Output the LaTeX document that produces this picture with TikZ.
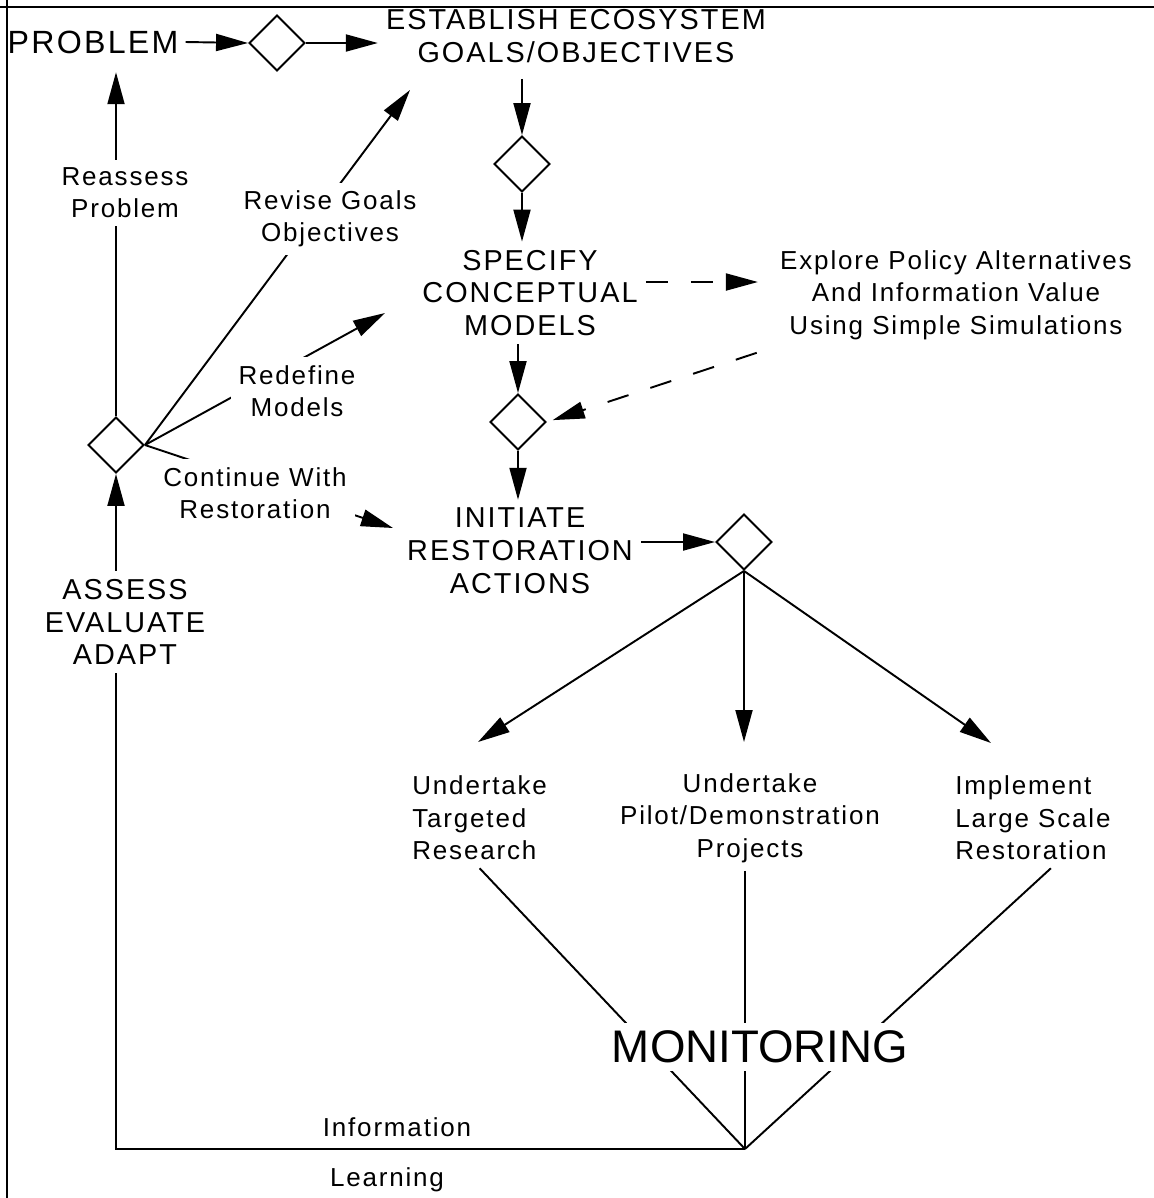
\documentclass[tikz,border=0pt]{standalone}
\usepackage{fontspec}
\setmainfont{Liberation Sans}
\newfontfamily\spacedfont[LetterSpace=7]{Liberation Sans}
\usepackage{tikz}
\usetikzlibrary{shapes.geometric,arrows.meta,positioning,calc,backgrounds}
\tikzset{
    stage/.style={font=\spacedfont\fontsize{16.4}{18.7}\selectfont, align=center, inner sep=0.16cm},
    note/.style={font=\spacedfont\fontsize{14.8}{18.4}\selectfont, align=center, inner sep=0.16cm},
    notebg/.style={note, fill=white},
    decision/.style={diamond, draw, line width=1.1pt, minimum width=1.12cm, minimum height=1.12cm, inner sep=0pt},
    flow/.style={line width=1.1pt, -{Triangle[length=0.64cm, width=0.34cm]}},
    link/.style={line width=1.1pt},
    dflow/.style={flow, dash pattern=on 0.44cm off 0.46cm},
}

\begin{document}
\begin{tikzpicture}[x=0.02cm, y=-0.02cm]
    \useasboundingbox (0,0) rectangle (1154,1198);
    % Frame (top and left only)
    \draw[line width=1.3pt] (0,7) -- (1154,7);
    \draw[line width=1.3pt] (7,0) -- (7,1198);

    % Main column
    \node[font=\spacedfont\fontsize{18.3}{20}\selectfont, inner xsep=0.14cm, inner ysep=0.37cm] (problem) at (93,42) {PROBLEM};
    \node[decision] (d1) at (277,43) {};
    \node[stage] (establish) at (576,36) {ESTABLISH ECOSYSTEM\\GOALS/OBJECTIVES};
    \node[decision] (d2) at (522,164) {};
    \node[stage] (specify) at (530,293) {SPECIFY\\CONCEPTUAL\\MODELS};
    \node[decision] (d3) at (518,422) {};
    \node[stage] (initiate) at (520,551) {INITIATE\\RESTORATION\\ACTIONS};
    \node[decision] (d4) at (744,542) {};

    % Side branch
    \node[note] (explore) at (956,295) {Explore Policy Alternatives\\And Information Value\\Using Simple Simulations};

    % Kinds of action
    \node[note, align=left, anchor=west] (research) at (404,818) {Undertake\\Targeted\\Research};
    \node[note] (pilot) at (750,818) {Undertake\\Pilot/Demonstration\\Projects};
    \node[note, align=left, anchor=west] (implement) at (947,818) {Implement\\Large Scale\\Restoration};
    \node[font=\fontsize{26}{28}\selectfont, fill=white, inner sep=0.16cm] (monitoring) at (760,1047) {MONITORING};
    \coordinate (sink) at (745,1149);
    \node[note] (info) at (397,1127) {Information};
    \node[note] (learn) at (387,1180) {Learning};

    % Feedback (left)
    \node[decision] (d5) at (116,445) {};
    \node[stage, fill=white] (assess) at (125,622) {ASSESS\\EVALUATE\\ADAPT};
    \node[notebg] (reassess) at (125,193) {Reassess\\Problem};
    \node[notebg] (revise) at (330,219) {Revise Goals\\Objectives};
    \node[notebg] (redefine) at (297,391) {Redefine\\Models};
    \node[notebg] (cont) at (255,493) {Continue With\\Restoration};
    \coordinate (revtip) at (410,90);
    \coordinate (redtip) at (385,313);
    \coordinate (contip) at (393,528);
    \coordinate (tipL) at (478,742);
    \coordinate (tipR) at (991,743);

    % Connections
    \begin{scope}[on background layer]
    \draw[flow] (problem.east) -- (d1.west);
    \draw[flow] (d1.east) -- (d1.east -| establish.west);
    \draw[flow, shorten <=0.16cm] (d2.north |- establish.south) -- (d2.north);
    \draw[flow] (d2.south) -- (d2.south |- specify.north);
    \draw[flow] (d3.north |- specify.south) -- (d3.north);
    \draw[flow] (d3.south) -- (d3.south |- initiate.north);
    \draw[flow] (initiate.east |- d4.west) -- (d4.west);
    \draw[dflow, shorten >=0.28cm] ($(specify.east)+(0,-11)$) -- ($(specify.east -| explore.west)+(0,-11)$);
    \draw[dflow, shorten <=0.32cm, shorten >=0.12cm] (explore.south west) -- (d3.east);
    \draw[flow] (d4.south) -- (tipL);
    \draw[flow] (d4.south) -- (d4.south |- tipL);
    \draw[flow] (d4.south) -- (tipR);
    \draw[link] (research.south) -- (sink);
    \draw[link] (sink |- pilot.south) -- (sink);
    \draw[link] ([xshift=0.36cm]implement.south) -- (sink);
    \draw[flow] (sink) -| (d5.south);
    \draw[flow] (d5.north) -- (d5.north |- problem.south);
    \draw[flow] (d5.east) -- (revtip);
    \draw[flow] (d5.east) -- (redtip);
    \draw[flow] (d5.east) -- (contip);
    \end{scope}
\end{tikzpicture}
\end{document}
